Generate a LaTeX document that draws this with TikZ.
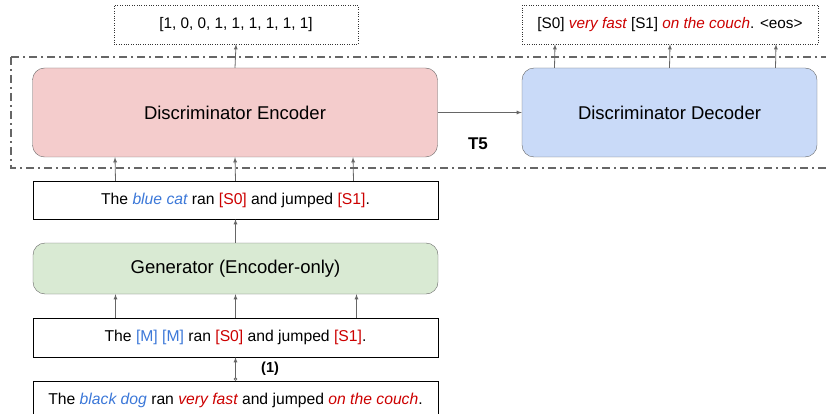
\documentclass[tikz,border=0pt]{standalone}
\usepackage{fontspec}
\setmainfont{Liberation Sans}
\usepackage{tikz}
\usetikzlibrary{arrows,arrows.meta,positioning}
\definecolor{encred}{HTML}{F4CCCC}
\definecolor{decblue}{HTML}{C9DAF8}
\definecolor{gengreen}{HTML}{D9EAD3}
\definecolor{edgegray}{HTML}{666666}
\definecolor{txtblue}{HTML}{3C78D8}
\definecolor{txtred}{HTML}{CC0000}
\newcommand\tb[1]{\textcolor{txtblue}{#1}}
\newcommand\tr[1]{\textcolor{txtred}{#1}}
\tikzset{
  block/.style={draw=edgegray,rounded corners=12pt,minimum width=405pt,minimum height=89pt,font=\fontsize{18.5}{20}\selectfont},
  sent/.style={draw=black,minimum width=405pt,minimum height=38pt,font=\fontsize{15.7}{18}\selectfont},
  outbox/.style={draw=black!80,dotted,minimum height=39pt,font=\fontsize{15.3}{18}\selectfont},
  up/.style={-latex,draw=edgegray,line width=0.8pt}
}

\begin{document}
\begin{tikzpicture}[x=1pt,y=-1pt]%
\clip (0,0) rectangle (826,414);
\begin{scope}%
\node[outbox,minimum width=244pt] (outenc) at (236,24.5) {[1, 0, 0, 1, 1, 1, 1, 1, 1]}; %%
\node[outbox,minimum width=296pt] (outdec) at (670,24.5) {[S0] \tr{\itshape very fast} [S1] \tr{\itshape on the couch}. <eos>}; %%
\draw[edgegray,line width=1.5pt,dash pattern=on 8pt off 4pt on 2pt off 4pt] (11,57) rectangle (840,168);
\node[block,fill=encred] (enc) at (235,112.5) {Discriminator Encoder}; %%
\node[block,fill=decblue,minimum width=295pt] (dec) at (669.5,112.5) {Discriminator Decoder}; %%
\node[font=\fontsize{17}{19}\selectfont\bfseries] (tfive) at (478,144) {T5}; %%
\node[sent] (blue) at (235.5,200) {The \tb{\itshape blue cat} ran \tr{[S0]} and jumped \tr{[S1]}.}; %%
\node[block,fill=gengreen,minimum height=51pt] (gen) at (235.5,268.5) {Generator (Encoder-only)}; %%
\node[sent,minimum height=39pt] (mask) at (235.5,337.5) {The \tb{[M] [M]} ran \tr{[S0]} and jumped \tr{[S1]}.}; %%
\node[sent] (orig) at (235.5,400) {The \tb{\itshape black dog} ran \tr{\itshape very fast} and jumped \tr{\itshape on the couch}.}; %%
\end{scope}
% arrows
\draw[up] (enc.north)--(outenc.south); %%
\draw[up] (enc.east)--(dec.west); %%
\foreach \dx in {-115,0,106}
  \draw[up] ([xshift=\dx]dec.north)--([xshift=\dx]outdec.south); %%
\foreach \dx in {-120,0,118}
  \draw[up] ([xshift=\dx]blue.north)--([xshift=\dx]enc.south); %%
\draw[up] (gen.north)--(blue.south); %%
\foreach \dx in {-120,0,121}
  \draw[up] ([xshift=\dx]mask.north)--([xshift=\dx]gen.south); %%
\draw[up,{Circle[open,length=3.5pt]}-latex] (orig.north)--(mask.south) node[midway,right=22pt,font=\fontsize{14.5}{16}\selectfont\bfseries]{(1)}; %%
\end{tikzpicture}
\end{document}
